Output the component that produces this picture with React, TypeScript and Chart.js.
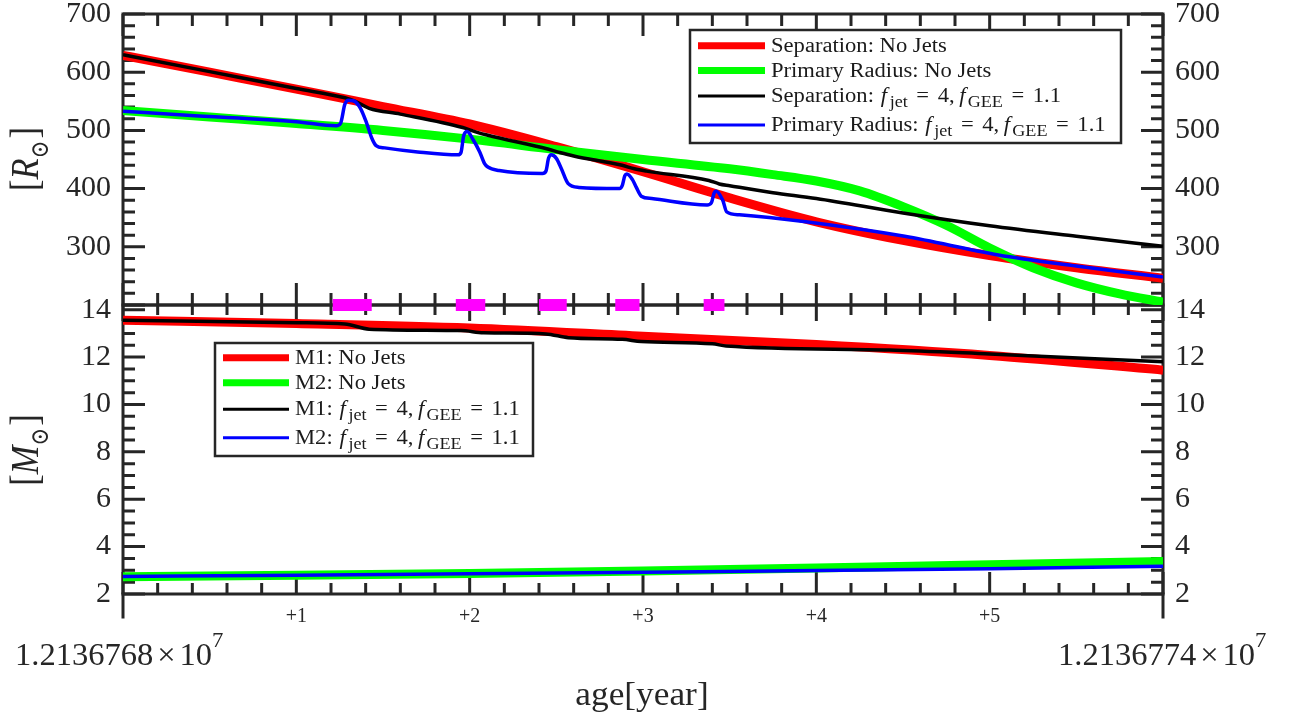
import React, { useEffect, useRef } from 'react';
import { Chart, registerables } from 'chart.js';

Chart.register(...registerables);

const AXIS = '#262626';
const SERIF = "'Liberation Serif', 'DejaVu Serif', serif";

// ---------- axis definitions ----------
const ageOriginLabel = '1.2136768';
const ageEndLabel = '1.2136774';
const ageExponent = '7';
const xMin = 0;
const xMax = 6;
const xTickLabels = ['', '+1', '+2', '+3', '+4', '+5', ''];
const rMin = 200;
const rMax = 700;
const rStep = 100;
const rMinorStep = 20;
const mMin = 2;
const mMax = 14.2;
const mStep = 2;
const mMinorStep = 0.5;

// ---------- top panel: separation / radius [R_sun] ----------
const sepNoJetsAge = [0, 0.5, 1, 1.5, 2, 2.5, 3, 3.5, 4, 4.5, 5, 5.5, 6];
const sepNoJetsR = [629, 600, 571, 541, 511, 472, 429, 384, 343, 311, 285, 264, 246];

const radNoJetsAge = [0, 0.5, 1, 1.5, 2, 2.5, 3, 3.5, 3.75, 4, 4.25, 4.5, 4.75, 5, 5.25, 5.5, 5.75, 6];
const radNoJetsR = [534, 523, 512, 500, 485, 467, 450, 434, 424, 413, 396, 369, 337, 298, 264, 238, 219, 205];

const sepJetsAge = [0, 0.5, 1, 1.28, 1.34, 1.42, 1.6, 1.96, 2.03, 2.1, 2.45, 2.52, 2.6, 2.88, 2.95, 3.02, 3.38, 3.44, 3.5, 3.75, 4, 4.5, 5, 5.5, 6];
const sepJetsR = [630, 601, 572, 556, 550, 538, 528, 505, 498, 492, 468, 462, 456, 440, 434, 430, 414, 408, 405, 393, 383, 358, 336, 318, 301];

const radJetsAge = [0, 0.37, 1, 1.23, 1.255, 1.28, 1.3, 1.33, 1.37, 1.405, 1.435, 1.46, 1.51, 1.7, 1.933, 1.95, 1.965, 1.985, 2.02, 2.058, 2.086, 2.105, 2.17, 2.42, 2.44, 2.455, 2.47, 2.5, 2.528, 2.567, 2.63, 2.865, 2.88, 2.895, 2.907, 2.94, 2.96, 2.99, 3.05, 3.37, 3.395, 3.41, 3.42, 3.46, 3.483, 3.556, 3.94, 4.51, 5.05, 5.5, 6];
const radJetsR = [533, 526, 515, 508, 512, 545, 552, 551, 538, 513, 487, 474, 470, 463, 458, 462, 490, 498, 484, 463, 443, 437, 431, 426, 430, 452, 458, 452, 435, 409, 402, 400, 405, 422, 425, 415, 403, 387, 383, 372, 376, 392, 396, 380, 360, 355, 343, 318, 286, 267, 248];

// jet-active intervals (magenta markers)
const jetStart = [1.21, 1.92, 2.4, 2.84, 3.35];
const jetEnd = [1.435, 2.09, 2.56, 2.98, 3.47];

// ---------- bottom panel: masses [M_sun] ----------
const massAge = [0, 1, 2, 3, 4, 5, 6];
const m1NoJets = [13.56, 13.42, 13.23, 12.88, 12.53, 12.07, 11.45];
const m2NoJets = [2.73, 2.79, 2.87, 2.97, 3.1, 3.23, 3.37];
const m2Jets = [2.74, 2.79, 2.85, 2.92, 2.99, 3.07, 3.17];
const m1JetsAge = [0, 1, 1.28, 1.42, 1.95, 2.08, 2.44, 2.57, 2.88, 2.99, 3.4, 3.48, 4.42, 5, 6];
const m1Jets = [13.56, 13.45, 13.4, 13.18, 13.12, 13.03, 12.98, 12.82, 12.75, 12.66, 12.56, 12.47, 12.3, 12.13, 11.8];

const pts = (xs: number[], ys: number[]) => xs.map((x, i) => ({ x, y: ys[i] }));

// ---------- rich text helpers ----------
type Seg = { t?: string; it?: boolean; sub?: boolean; sup?: boolean; k?: number; gap?: number };

function segSize(s: Seg, size: number) {
  if (s.sub || s.sup) return size * (s.k ?? 0.8);
  return size;
}
function setFont(ctx: CanvasRenderingContext2D, s: Seg, size: number) {
  ctx.font = `${s.it ? 'italic ' : ''}${segSize(s, size)}px ${SERIF}`;
}
function measureRich(ctx: CanvasRenderingContext2D, segs: Seg[], size: number) {
  let w = 0;
  for (const s of segs) {
    if (s.gap !== undefined) { w += s.gap * size; continue; }
    setFont(ctx, s, size);
    w += ctx.measureText(s.t || '').width;
  }
  return w;
}
function drawRich(ctx: CanvasRenderingContext2D, segs: Seg[], x: number, y: number, size: number, sx = 1, align: 'left' | 'center' = 'left') {
  const w = measureRich(ctx, segs, size) * sx;
  ctx.save();
  ctx.textAlign = 'left';
  ctx.textBaseline = 'alphabetic';
  ctx.translate(align === 'center' ? x - w / 2 : x, y);
  ctx.scale(sx, 1);
  let cx = 0;
  for (const s of segs) {
    if (s.gap !== undefined) { cx += s.gap * size; continue; }
    setFont(ctx, s, size);
    const dy = s.sub ? size * 0.25 : s.sup ? -size * 0.58 : 0;
    ctx.fillText(s.t || '', cx, dy);
    cx += ctx.measureText(s.t || '').width;
  }
  ctx.restore();
  return w;
}

const mathJets: Seg[] = [
  { t: 'f', it: true }, { gap: 0.12 }, { t: 'jet', sub: true }, { gap: 0.38 }, { t: '=' }, { gap: 0.38 },
  { t: '4,' }, { gap: 0.2 }, { t: 'f', it: true }, { gap: 0.1 }, { t: 'GEE', sub: true }, { gap: 0.38 },
  { t: '=' }, { gap: 0.38 }, { t: '1.1' },
];

type LegendRow = { color: string; width: number; segs: Seg[] };
type LegendBox = { x0: number; y0: number; x1: number; y1: number; s0: number; s1: number; tx: number; rows: number[] };

function drawLegend(ctx: CanvasRenderingContext2D, b: LegendBox, rows: LegendRow[]) {
  ctx.save();
  ctx.fillStyle = '#ffffff';
  ctx.fillRect(b.x0, b.y0, b.x1 - b.x0, b.y1 - b.y0);
  ctx.strokeStyle = AXIS;
  ctx.lineWidth = 2.5;
  ctx.strokeRect(b.x0, b.y0, b.x1 - b.x0, b.y1 - b.y0);
  rows.forEach((r, i) => {
    const y = b.rows[i];
    ctx.beginPath();
    ctx.moveTo(b.s0, y);
    ctx.lineTo(b.s1, y);
    ctx.strokeStyle = r.color;
    ctx.lineWidth = r.width;
    ctx.lineCap = 'butt';
    ctx.stroke();
    ctx.fillStyle = '#1a1a1a';
    drawRich(ctx, r.segs, b.tx, y + 6, 20, 1.13);
  });
  ctx.restore();
}

function drawXTicks(ctx: CanvasRenderingContext2D, xs: any, y: number, dir: number, maj: number, min: number) {
  ctx.beginPath();
  const n = Math.round((xMax - xMin) / 0.2);
  for (let i = 0; i <= n; i++) {
    const v = xMin + i * 0.2;
    const px = xs.getPixelForValue(v);
    const len = i % 5 === 0 ? maj : min;
    ctx.moveTo(px, y);
    ctx.lineTo(px, y + dir * len);
  }
  ctx.stroke();
}
function drawYTicks(ctx: CanvasRenderingContext2D, ys: any, x: number, dir: number, lo: number, hi: number, minorStep: number, majorStep: number, maj: number, min: number) {
  ctx.beginPath();
  const n = Math.round((hi - lo) / minorStep);
  for (let i = 0; i <= n; i++) {
    const v = lo + i * minorStep;
    const r = v / majorStep;
    const isMajor = Math.abs(r - Math.round(r)) < 1e-6;
    const py = ys.getPixelForValue(v);
    ctx.moveTo(x, py);
    ctx.lineTo(x + dir * (isMajor ? maj : min), py);
  }
  ctx.stroke();
}

function drawYLabel(ctx: CanvasRenderingContext2D, letter: string, cx: number, cy: number) {
  ctx.save();
  ctx.fillStyle = AXIS;
  ctx.translate(cx, cy);
  ctx.rotate(-Math.PI / 2);
  drawRich(ctx, [{ t: '[' }, { t: letter, it: true }, { t: '\u2299', sub: true, k: 0.62 }, { gap: 0.06 }, { t: ']' }], 0, 0, 40, 0.86, 'center');
  ctx.restore();
}

const topDecor = {
  id: 'topDecor',
  beforeDatasetsDraw(chart: any) {
    const ctx = chart.ctx as CanvasRenderingContext2D;
    const a = chart.chartArea;
    const xs = chart.scales.x;
    const ys = chart.scales.y;
    ctx.save();
    ctx.strokeStyle = AXIS;
    ctx.lineWidth = 3;
    ctx.lineCap = 'square';
    ctx.strokeRect(a.left, a.top, a.right - a.left, a.bottom - a.top);
    ctx.lineCap = 'butt';
    drawXTicks(ctx, xs, a.top, 1, 22, 12);
    drawXTicks(ctx, xs, a.bottom, -1, 22, 12);
    drawYTicks(ctx, ys, a.left, 1, rMin, rMax, rMinorStep, rStep, 22, 12);
    drawYTicks(ctx, ys, a.right, -1, rMin, rMax, rMinorStep, rStep, 22, 12);
    ctx.restore();
  },
  afterDatasetsDraw(chart: any) {
    const ctx = chart.ctx as CanvasRenderingContext2D;
    drawLegend(ctx, { x0: 690, y0: 30, x1: 1121, y1: 143, s0: 698, s1: 765, tx: 771, rows: [45.7, 70.5, 96, 125] }, [
      { color: '#ff0000', width: 7, segs: [{ t: 'Separation: No Jets' }] },
      { color: '#00ff00', width: 7, segs: [{ t: 'Primary Radius: No Jets' }] },
      { color: '#000000', width: 3, segs: [{ t: 'Separation:' }, { gap: 0.3 }, ...mathJets] },
      { color: '#0000ff', width: 3, segs: [{ t: 'Primary Radius:' }, { gap: 0.3 }, ...mathJets] },
    ]);
    drawYLabel(ctx, 'R', 38, 159);
  },
};

const bottomDecor = {
  id: 'bottomDecor',
  beforeDatasetsDraw(chart: any) {
    const ctx = chart.ctx as CanvasRenderingContext2D;
    const a = chart.chartArea;
    const xs = chart.scales.x;
    const ys = chart.scales.y;
    ctx.save();
    ctx.strokeStyle = AXIS;
    ctx.lineWidth = 3;
    ctx.lineCap = 'square';
    ctx.strokeRect(a.left, a.top, a.right - a.left, a.bottom - a.top);
    ctx.beginPath();
    ctx.moveTo(a.left, a.bottom);
    ctx.lineTo(a.left, a.bottom + 23);
    ctx.moveTo(a.right, a.bottom);
    ctx.lineTo(a.right, a.bottom + 23);
    ctx.stroke();
    ctx.lineCap = 'butt';
    drawXTicks(ctx, xs, a.top, 1, 16, 10);
    drawXTicks(ctx, xs, a.bottom, -1, 22, 11);
    drawYTicks(ctx, ys, a.left, 1, mMin, 14, mMinorStep, mStep, 22, 12);
    drawYTicks(ctx, ys, a.right, -1, mMin, 14, mMinorStep, mStep, 22, 12);
    ctx.restore();
  },
  afterDatasetsDraw(chart: any) {
    const ctx = chart.ctx as CanvasRenderingContext2D;
    drawLegend(ctx, { x0: 215, y0: 343, x1: 533, y1: 456, s0: 223, s1: 289, tx: 295, rows: [357.7, 382.7, 409.3, 437.7] }, [
      { color: '#ff0000', width: 7, segs: [{ t: 'M1: No Jets' }] },
      { color: '#00ff00', width: 7, segs: [{ t: 'M2: No Jets' }] },
      { color: '#000000', width: 3, segs: [{ t: 'M1:' }, { gap: 0.3 }, ...mathJets] },
      { color: '#0000ff', width: 3, segs: [{ t: 'M2:' }, { gap: 0.3 }, ...mathJets] },
    ]);
    drawYLabel(ctx, 'M', 38, 450);
    ctx.save();
    ctx.fillStyle = AXIS;
    const offSegs = (base: string): Seg[] => [{ t: base }, { gap: 0.12 }, { t: '\u00d7' }, { gap: 0.12 }, { t: '10' }, { t: ageExponent, sup: true, k: 0.7 }];
    drawRich(ctx, offSegs(ageOriginLabel), 15, 665, 31, 1.05);
    drawRich(ctx, offSegs(ageEndLabel), 1058, 665, 31, 1.05);
    drawRich(ctx, [{ t: 'age[year]' }], 642, 705, 33, 1.07, 'center');
    ctx.restore();
  },
};

const lineDefaults = {
  pointRadius: 0,
  cubicInterpolationMode: 'monotone' as const,
  borderJoinStyle: 'round' as const,
  fill: false,
};

function yAxis(position: 'left' | 'right', min: number, max: number, step: number, hide: number | null, width: number) {
  return {
    type: 'linear' as const,
    position,
    min,
    max,
    ticks: {
      stepSize: step,
      includeBounds: false,
      color: AXIS,
      padding: 12,
      font: { family: SERIF, size: 30 },
      callback: (v: any) => (hide !== null && Math.abs(v - hide) < 1e-9 ? '' : String(v)),
    },
    grid: { display: false, drawTicks: false },
    border: { display: false },
    afterFit: (s: any) => {
      s.width = width;
      s.paddingTop = 0;
      s.paddingBottom = 0;
    },
  };
}

export default function App() {
  const topRef = useRef<HTMLCanvasElement>(null);
  const botRef = useRef<HTMLCanvasElement>(null);

  useEffect(() => {
    const jetPts: any[] = [];
    jetStart.forEach((s, i) => {
      jetPts.push({ x: s, y: rMin }, { x: jetEnd[i], y: rMin });
      if (i < jetStart.length - 1) jetPts.push({ x: (jetEnd[i] + jetStart[i + 1]) / 2, y: null });
    });

    const bottom = new Chart(botRef.current!, {
      type: 'line',
      data: {
        datasets: [
          { ...lineDefaults, label: 'M2: jets', data: pts(massAge, m2Jets), borderColor: '#0000ff', borderWidth: 3.5, order: 1 },
          { ...lineDefaults, label: 'M1: jets', data: pts(m1JetsAge, m1Jets), borderColor: '#000000', borderWidth: 3.5, order: 2 },
          { ...lineDefaults, label: 'M2: No Jets', data: pts(massAge, m2NoJets), borderColor: '#00ff00', borderWidth: 9, order: 3 },
          { ...lineDefaults, label: 'M1: No Jets', data: pts(massAge, m1NoJets), borderColor: '#ff0000', borderWidth: 9, order: 4 },
        ],
      },
      options: {
        animation: false,
        responsive: false,
        maintainAspectRatio: false,
        layout: { padding: { top: 305, bottom: 0, left: 0, right: 0 } },
        plugins: { legend: { display: false }, tooltip: { enabled: false } },
        scales: {
          x: {
            type: 'linear',
            position: 'bottom',
            min: xMin,
            max: xMax,
            ticks: {
              stepSize: 1,
              color: AXIS,
              padding: 11,
              maxRotation: 0,
              autoSkip: false,
              font: { family: SERIF, size: 20 },
              callback: (v: any) => xTickLabels[Math.round(Number(v) - xMin)] ?? '',
            },
            grid: { display: false, drawTicks: false },
            border: { display: false },
            afterFit: (s: any) => {
              s.height = 124;
              s.paddingLeft = 0;
              s.paddingRight = 0;
            },
          },
          y: yAxis('left', mMin, mMax, mStep, null, 123),
          y2: yAxis('right', mMin, mMax, mStep, null, 126),
        },
      } as any,
      plugins: [bottomDecor],
    });

    const top = new Chart(topRef.current!, {
      type: 'line',
      data: {
        datasets: [
          { label: 'jets on', data: jetPts, borderColor: '#ff00ff', borderWidth: 12, borderCapStyle: 'butt', pointRadius: 0, tension: 0, spanGaps: false, clip: false, order: 0 },
          { ...lineDefaults, label: 'Primary Radius: jets', data: pts(radJetsAge, radJetsR), borderColor: '#0000ff', borderWidth: 3.5, order: 1 },
          { ...lineDefaults, label: 'Separation: jets', data: pts(sepJetsAge, sepJetsR), borderColor: '#000000', borderWidth: 3.5, order: 2 },
          { ...lineDefaults, label: 'Primary Radius: No Jets', data: pts(radNoJetsAge, radNoJetsR), borderColor: '#00ff00', borderWidth: 9, order: 3 },
          { ...lineDefaults, label: 'Separation: No Jets', data: pts(sepNoJetsAge, sepNoJetsR), borderColor: '#ff0000', borderWidth: 9, order: 4 },
        ],
      },
      options: {
        animation: false,
        responsive: false,
        maintainAspectRatio: false,
        layout: { padding: { top: 14, bottom: 413, left: 0, right: 0 } },
        plugins: { legend: { display: false }, tooltip: { enabled: false } },
        scales: {
          x: { type: 'linear', min: xMin, max: xMax, display: false },
          y: yAxis('left', rMin, rMax, rStep, rMin, 123),
          y2: yAxis('right', rMin, rMax, rStep, rMin, 126),
        },
      } as any,
      plugins: [topDecor],
    });

    return () => {
      top.destroy();
      bottom.destroy();
    };
  }, []);

  const style: React.CSSProperties = { position: 'absolute', left: 0, top: 0, width: 1289, height: 718 };
  return (
    <div style={{ position: 'absolute', left: 0, top: 0, width: 1289, height: 718, background: '#ffffff' }}>
      <canvas ref={botRef} width={1289} height={718} style={style} />
      <canvas ref={topRef} width={1289} height={718} style={style} />
    </div>
  );
}
